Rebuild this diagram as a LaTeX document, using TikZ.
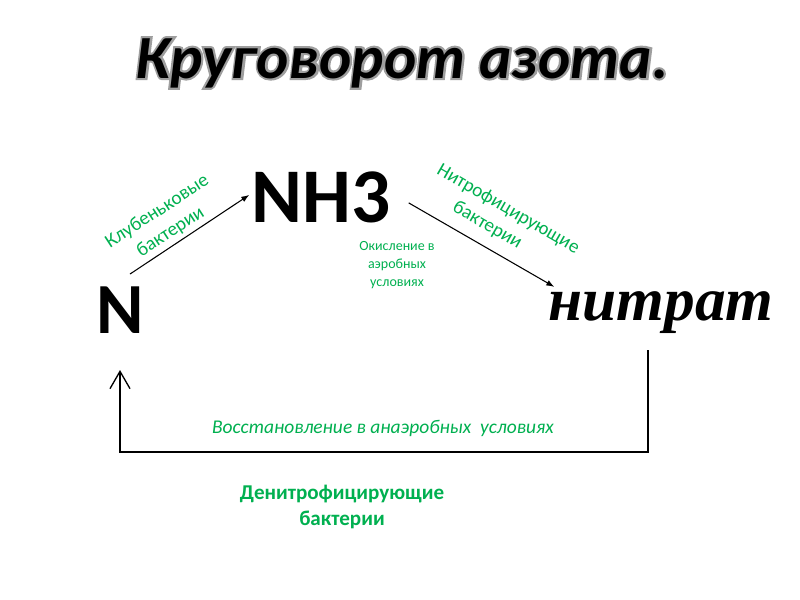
\documentclass[tikz,border=0pt]{standalone}
\usepackage{fontspec}
\setmainfont{Carlito}
\newfontfamily\serifit{Liberation Serif}
\newfontfamily\glowfont{Carlito}[BoldItalicFeatures={FakeBold=7}]
\usetikzlibrary{arrows.meta,calc}
\definecolor{lgreen}{HTML}{00B050}
\tikzset{
  titletxt/.style={font=\fontsize{46}{50}\selectfont\bfseries\itshape, inner sep=0pt, anchor=base},
  glowtxt/.style={font=\glowfont\fontsize{46}{50}\selectfont\bfseries\itshape, inner sep=0pt, anchor=base, text=black!38},
  bigtxt/.style={font=\fontsize{54}{58}\selectfont\bfseries, inner sep=0pt, anchor=base},
  nh3txt/.style={font=\fontsize{58}{60}\selectfont\bfseries, inner sep=0pt, anchor=base},
  nitrtxt/.style={font=\serifit\fontsize{46}{50}\selectfont\bfseries\itshape, inner sep=0pt, anchor=base},
  glabel/.style={text=lgreen, font=\fontsize{14.5}{18.3}\selectfont, inner sep=0pt, align=center},
  gsmall/.style={text=lgreen, font=\fontsize{10.5}{13.5}\selectfont, inner sep=0pt, align=center},
  gital/.style={text=lgreen, font=\fontsize{14.6}{16}\selectfont\itshape, inner sep=0pt, anchor=base},
  gbold/.style={text=lgreen, font=\fontsize{15.8}{19.5}\selectfont\bfseries, inner sep=0pt, align=center},
  arr/.style={draw=black, line width=0.8pt, -{Latex[length=6pt,width=4.5pt]}},
  cycleline/.style={draw=black, line width=1.7pt, -{Straight Barb[length=13pt,width=15pt,line width=1pt]}},
}
\begin{document}
\begin{tikzpicture}[x=0.75pt,y=-0.75pt]
\useasboundingbox (0,0) rectangle (800,600);
\fill[white] (0,0) rectangle (800,600);
% title with grey glow
\node[glowtxt] (titleglow) at (402,78) {Круговорот азота.};
\node[titletxt] (title) at (402,78) {Круговорот азота.};
% main nodes
\node[bigtxt] (N) at (120,333) {N};
\node[nh3txt] (NH3) at (321,222) {NH3};
\node[nitrtxt] (nitrat) at (661,320) {нитрат};
% connectors
\draw[arr] ($(N.north)+(10,-12)$) -- ($(NH3.west)+(-2,-2)$);
\draw[arr] ($(NH3.east)+(18,6)$) -- ($(nitrat.north west)+(6,-4)$);
\coordinate (bstart) at (648,350);
\coordinate (bend) at (120,370);
\draw[cycleline] (bstart) -- (648,452) -- (120,452) -- (bend);
% labels
\node[glabel, rotate=33] (l1) at (164,222) {Клубеньковые\\бактерии};
\node[glabel, rotate=-30] (l3) at (502,220) {Нитрофицирующие\\бактерии\hspace*{15pt}};
\node[gsmall] (ox) at (397,265) {Окисление в\\аэробных\\условиях};
\node[gital] (red) at (383,433) {Восстановление в анаэробных\ \ условиях};
\node[gbold] (den) at (342,507) {Денитрофицирующие\\бактерии};
\end{tikzpicture}
\end{document}
